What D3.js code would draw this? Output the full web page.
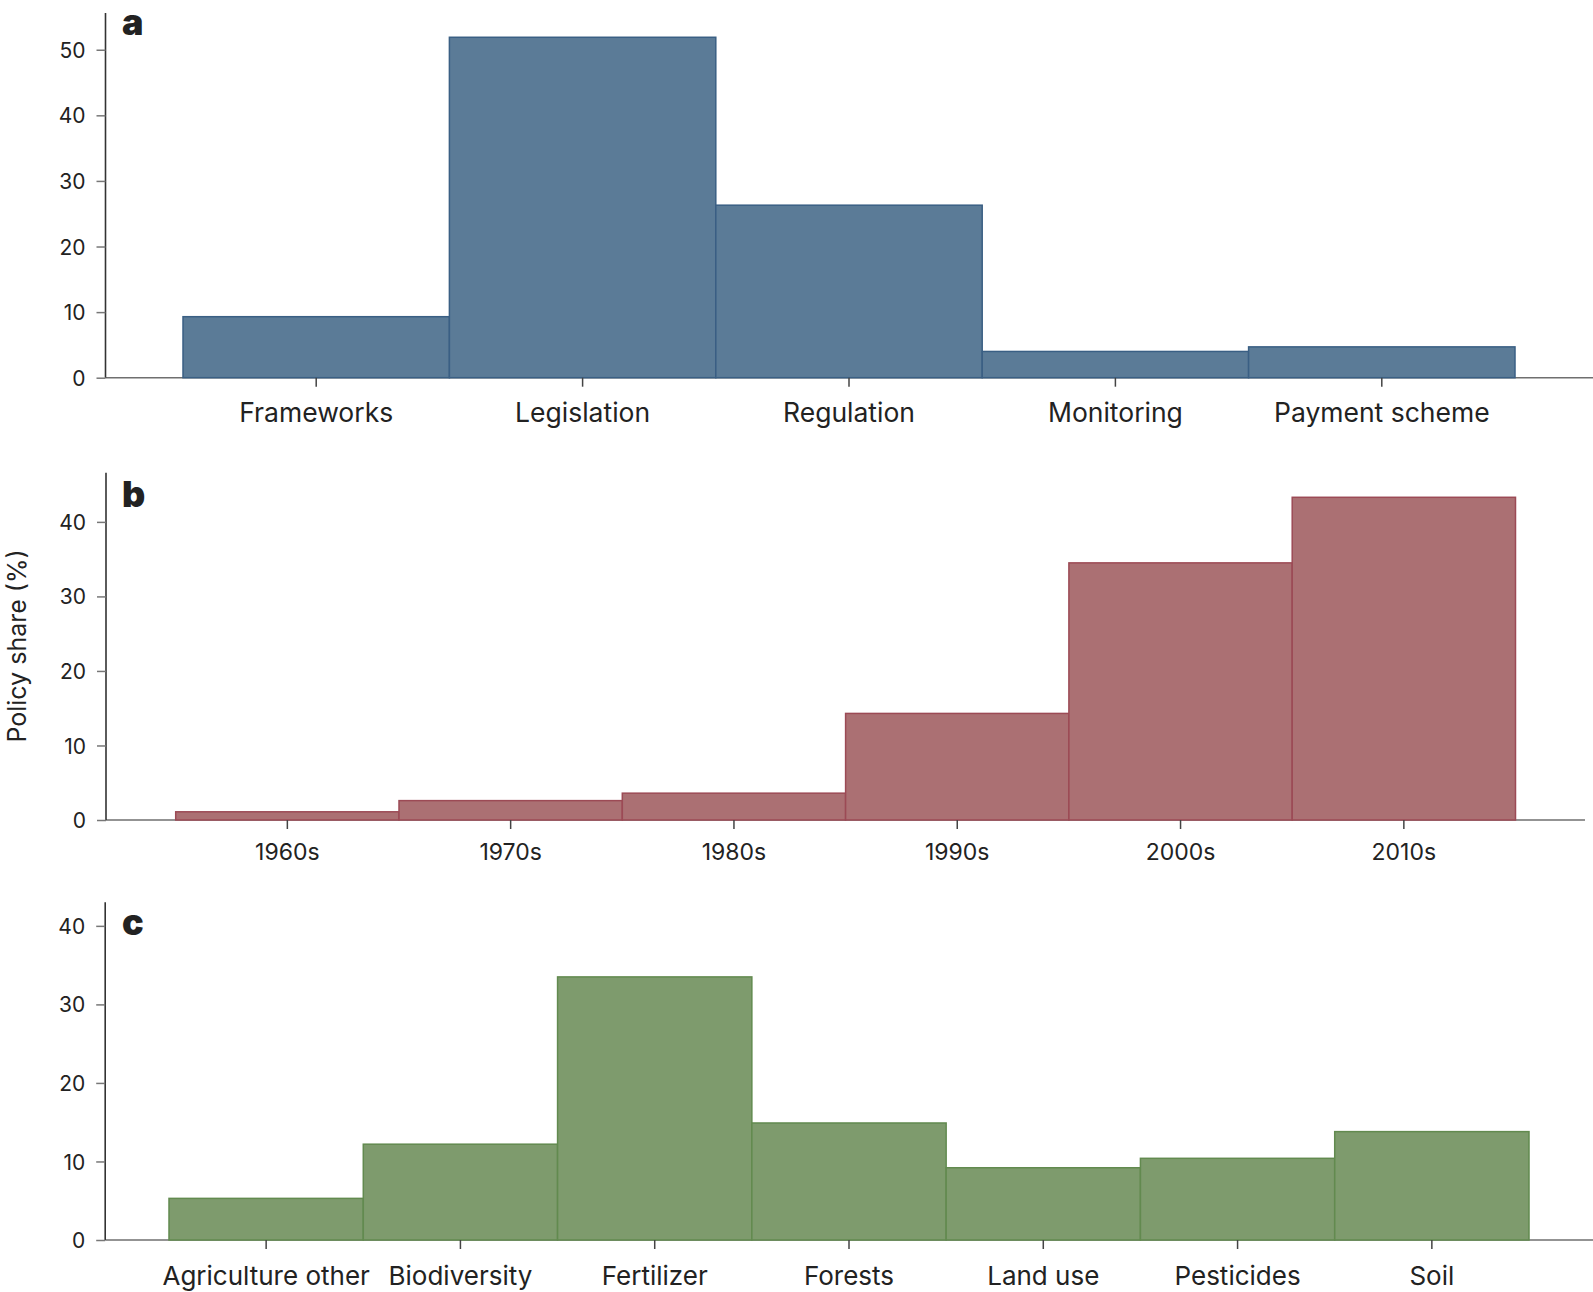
<!DOCTYPE html>
<html>
<head>
<meta charset="utf-8">
<script src="https://cdn.jsdelivr.net/npm/d3@7"></script>
<style>
  body { margin: 0; background: #fff; }
  svg text { font-family: Inter, "Noto Sans", sans-serif; fill: #222; }
</style>
</head>
<body>
<svg id="chart" width="1593" height="1292"></svg>
<script>
// panel a - policy instrument
var instrumentCats = ['Frameworks', 'Legislation', 'Regulation', 'Monitoring', 'Payment scheme'];
var instrumentShare = [9.3, 51.9, 26.3, 4.0, 4.7];

// panel b - decade
var decadeCats = ['1960s', '1970s', '1980s', '1990s', '2000s', '2010s'];
var decadeShare = [1.1, 2.6, 3.6, 14.3, 34.5, 43.3];

// panel c - topic
var topicCats = ['Agriculture other', 'Biodiversity', 'Fertilizer', 'Forests', 'Land use', 'Pesticides', 'Soil'];
var topicShare = [5.3, 12.2, 33.5, 14.9, 9.2, 10.4, 13.8];

var yTicksA = [0, 10, 20, 30, 40, 50];
var yTicksB = [0, 10, 20, 30, 40];
var yTicksC = [0, 10, 20, 30, 40];

var svg = d3.select('#chart');

function renderPanel(opts) {
    let g = svg.append('g');

    let x = d3.scaleBand()
        .domain(opts.cats)
        .range([opts.x0, opts.x1])
        .padding(0);

    let y = d3.scaleLinear()
        .domain([0, opts.yMax])
        .range([opts.base, opts.top]);

    // x axis line, runs out to the right edge
    g.append('line')
        .attr('x1', opts.axisX)
        .attr('x2', opts.axisEnd)
        .attr('y1', y(0))
        .attr('y2', y(0))
        .style('stroke', '#6f6f6f')
        .style('stroke-width', 1.6);

    // bars
    g.selectAll('rect.bar')
        .data(opts.values)
        .enter()
        .append('rect')
        .attr('class', 'bar')
        .attr('x', function (d, i) { return x(opts.cats[i]); })
        .attr('width', x.bandwidth())
        .attr('y', function (d) { return y(d); })
        .attr('height', function (d) { return y(0) - y(d); })
        .style('fill', opts.fill)
        .style('stroke', opts.stroke)
        .style('stroke-width', 1.5);

    // y axis
    let yAxis = d3.axisLeft(y)
        .tickValues(opts.yTicks)
        .tickSize(9)
        .tickPadding(11)
        .tickFormat(d3.format('d'));
    let ya = g.append('g')
        .attr('transform', 'translate(' + opts.axisX + ',0)')
        .call(yAxis);
    ya.select('.domain')
        .attr('d', 'M0,' + opts.top + 'V' + opts.base)
        .style('stroke', '#333')
        .style('stroke-width', 1.6);
    ya.selectAll('.tick line').style('stroke', '#777').style('stroke-width', 1.5);
    ya.selectAll('.tick text')
        .style('font-size', '21px')
        .attr('dy', '0.36em');

    // x axis ticks and labels
    let xAxis = d3.axisBottom(x)
        .tickSize(9)
        .tickSizeOuter(0);
    let xa = g.append('g')
        .attr('transform', 'translate(0,' + y(0) + ')')
        .call(xAxis);
    xa.select('.domain').remove();
    xa.selectAll('.tick line').style('stroke', '#444').style('stroke-width', 1.5);
    xa.selectAll('.tick text')
        .attr('y', opts.labelGap)
        .attr('dy', 0)
        .style('font-size', opts.labelSize + 'px');

    // panel letter
    g.append('text')
        .attr('x', 122)
        .attr('y', opts.letterY)
        .text(opts.letter)
        .style('font-size', '36px')
        .style('font-weight', 900);
}

renderPanel({
    cats: instrumentCats, values: instrumentShare, yTicks: yTicksA,
    x0: 183, x1: 1515, axisX: 105.5, axisEnd: 1593,
    base: 377.7, top: 13, yMax: 55.6,
    fill: '#5b7b97', stroke: '#3a5f84',
    labelGap: 44, labelSize: 26.5, letter: 'a', letterY: 35
});

renderPanel({
    cats: decadeCats, values: decadeShare, yTicks: yTicksB,
    x0: 175.7, x1: 1515.5, axisX: 106, axisEnd: 1585,
    base: 820, top: 472.7, yMax: 46.6,
    fill: '#ab7073', stroke: '#9c4a55',
    labelGap: 39.5, labelSize: 23, letter: 'b', letterY: 506.5
});

renderPanel({
    cats: topicCats, values: topicShare, yTicks: yTicksC,
    x0: 169, x1: 1529, axisX: 105.2, axisEnd: 1593,
    base: 1240, top: 902.3, yMax: 43.0,
    fill: '#7e9b6d', stroke: '#628a4f',
    labelGap: 45, labelSize: 26, letter: 'c', letterY: 935
});

// shared y title
svg.append('text')
    .attr('transform', 'translate(25.5,646) rotate(-90)')
    .attr('text-anchor', 'middle')
    .text('Policy share (%)')
    .style('font-size', '25px');
</script>
</body>
</html>
